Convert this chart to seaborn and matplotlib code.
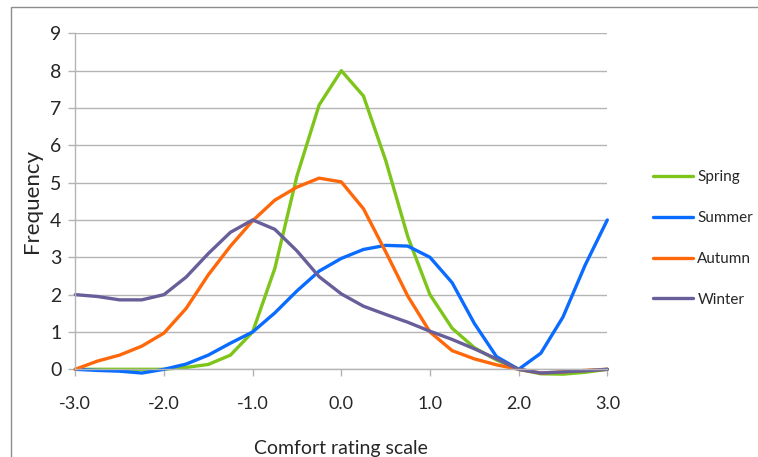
import numpy as np
import pandas as pd
import matplotlib
matplotlib.use("Agg")
import matplotlib.pyplot as plt
import seaborn as sns
from matplotlib.patches import Rectangle

# ---- data ----
x_vals = [-3.0, -2.75, -2.5, -2.25, -2.0, -1.75, -1.5, -1.25, -1.0, -0.75, -0.5, -0.25,
          0.0, 0.25, 0.5, 0.75, 1.0, 1.25, 1.5, 1.75, 2.0, 2.25, 2.5, 2.75, 3.0]
spring = [0, 0, 0, 0, 0, 0.05, 0.13, 0.38, 1.0, 2.7, 5.18, 7.08,
          8.0, 7.32, 5.6, 3.55, 2.0, 1.1, 0.58, 0.25, 0, -0.12, -0.13, -0.08, 0]
summer = [0, -0.03, -0.05, -0.1, 0, 0.14, 0.38, 0.7, 1.0, 1.51, 2.1, 2.63,
          2.97, 3.21, 3.32, 3.3, 3.0, 2.32, 1.23, 0.34, 0, 0.43, 1.4, 2.79, 4.0]
autumn = [0, 0.22, 0.38, 0.62, 0.97, 1.63, 2.53, 3.3, 3.98, 4.53, 4.88, 5.12,
          5.02, 4.3, 3.15, 1.96, 1.0, 0.5, 0.28, 0.12, 0, -0.1, -0.07, -0.03, 0]
winter = [2.0, 1.95, 1.86, 1.86, 2.0, 2.47, 3.1, 3.67, 4.0, 3.75, 3.17, 2.48,
          2.02, 1.69, 1.47, 1.26, 1.02, 0.8, 0.55, 0.28, 0, -0.1, -0.07, -0.04, 0]
seasons = ["Spring", "Summer", "Autumn", "Winter"]
x_ticks = [-3, -2, -1, 0, 1, 2, 3]
x_tick_labels = ["-3.0", "-2.0", "-1.0", "0.0", "1.0", "2.0", "3.0"]
y_ticks = [0, 1, 2, 3, 4, 5, 6, 7, 8, 9]

colors = {"Spring": "#7DC51A", "Summer": "#0A6BFF", "Autumn": "#FF680A", "Winter": "#675F9A"}

df = pd.concat([
    pd.DataFrame({"x": x_vals, "y": vals, "season": name})
    for name, vals in zip(seasons, [spring, summer, autumn, winter])
], ignore_index=True)

sns.set_style("white")
plt.rcParams["font.family"] = ["Lato", "DejaVu Sans"]

fig = plt.figure(figsize=(7.58, 4.57), dpi=100)
ax = fig.add_axes([75.3 / 758, 1 - 369.3 / 457, (607.3 - 75.3) / 758, (369.3 - 33.3) / 457])

sns.lineplot(data=df, x="x", y="y", hue="season", hue_order=seasons, palette=colors,
             linewidth=2.4, ax=ax, legend=True, sort=False)
for ln in ax.lines:
    ln.set_clip_on(False)
    ln.set_solid_joinstyle("round")

ax.set_xlim(-3, 3)
ax.set_ylim(0, 9)
ax.set_xticks(x_ticks)
ax.set_xticklabels(x_tick_labels)
ax.set_yticks(y_ticks)
ax.grid(axis="y", color="#B4B4B4", linewidth=1.0)
ax.grid(axis="x", visible=False)
ax.set_axisbelow(True)
for s in ["top", "right"]:
    ax.spines[s].set_visible(False)
for s in ["left", "bottom"]:
    ax.spines[s].set_color("#B4B4B4")
    ax.spines[s].set_linewidth(1.0)
ax.tick_params(axis="x", direction="out", length=5, width=1, color="#B4B4B4",
               labelsize=13, pad=14, bottom=True)
ax.tick_params(axis="y", direction="out", length=5, width=1, color="#B4B4B4",
               labelsize=14, pad=5, left=True)

ax.set_xlabel("Comfort rating scale", fontsize=14)
ax.set_ylabel("Frequency", fontsize=16)
ax.xaxis.set_label_coords(0.5, -0.21)
ax.yaxis.set_label_coords(-0.062, 0.502)

handles, labels = ax.get_legend_handles_labels()
leg = ax.legend(handles, labels, loc="upper left", bbox_to_anchor=(1.075, 0.611),
                frameon=False, handlelength=2.62, handletextpad=0.26,
                labelspacing=1.76, borderaxespad=0,
                prop={"size": 11})

# outer chart frame (left and top edges visible)
fig.patches.append(Rectangle((11 / 758, -0.1), 1.2, (1 - 7 / 457) + 0.1,
                             transform=fig.transFigure, fill=False,
                             edgecolor="#8C8C8C", linewidth=1.0))

fig.savefig("out.png", dpi=100)
